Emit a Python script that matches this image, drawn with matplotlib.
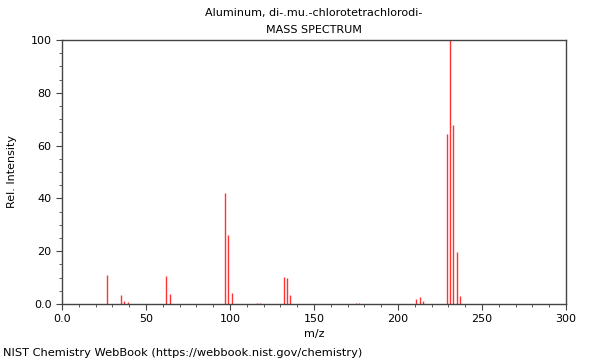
import matplotlib
matplotlib.use("Agg")
import matplotlib.pyplot as plt
from matplotlib.ticker import MultipleLocator, FuncFormatter

# peaks
mz = [27, 35, 37, 39, 62, 64, 97, 99, 101, 116, 118, 132, 134, 136,
      175, 177, 211, 213, 215, 229, 231, 233, 235, 237]
intensity = [11, 3.3, 1.0, 0.6, 10.5, 3.7, 42, 26, 4.0, 0.4, 0.3, 10.4, 9.8, 3.4,
             0.3, 0.3, 2.0, 2.8, 1.0, 64.4, 100, 67.7, 19.6, 3.2]

title1 = "Aluminum, di-.mu.-chlorotetrachlorodi-"
title2 = "MASS SPECTRUM"
footer = "NIST Chemistry WebBook (https://webbook.nist.gov/chemistry)"

fig = plt.figure(figsize=(6, 3.6), dpi=100)
ax = fig.add_axes([62 / 600, 56 / 360, 504 / 600, 264 / 360])

ax.vlines(mz, 0, intensity, colors="#ff3333", linewidth=1.0)

ax.set_xlim(0, 300)
ax.set_ylim(0, 100)
ax.xaxis.set_major_locator(MultipleLocator(50))
ax.xaxis.set_minor_locator(MultipleLocator(10))
ax.yaxis.set_major_locator(MultipleLocator(20))
ax.yaxis.set_minor_locator(MultipleLocator(5))
fmt = FuncFormatter(lambda v, p: "0.0" if v == 0 else f"{v:.0f}")
ax.xaxis.set_major_formatter(fmt)
ax.yaxis.set_major_formatter(fmt)

for s in ax.spines.values():
    s.set_color("#444444")
    s.set_linewidth(1.0)
ax.tick_params(which="both", direction="out", colors="#444444", labelcolor="black", labelsize=8)
ax.tick_params(which="major", length=4)
ax.tick_params(which="minor", length=2.5)

ax.set_xlabel("m/z", fontsize=8, labelpad=3)
ax.set_ylabel("Rel. Intensity", fontsize=8, labelpad=10)

fig.text(314 / 600, 1 - 13 / 360, title1, ha="center", va="center", fontsize=8)
fig.text(314 / 600, 1 - 30 / 360, title2, ha="center", va="center", fontsize=8)
fig.text(3 / 600, 1 - 353 / 360, footer, ha="left", va="center", fontsize=8.2)

fig.savefig("out.png", dpi=100)
